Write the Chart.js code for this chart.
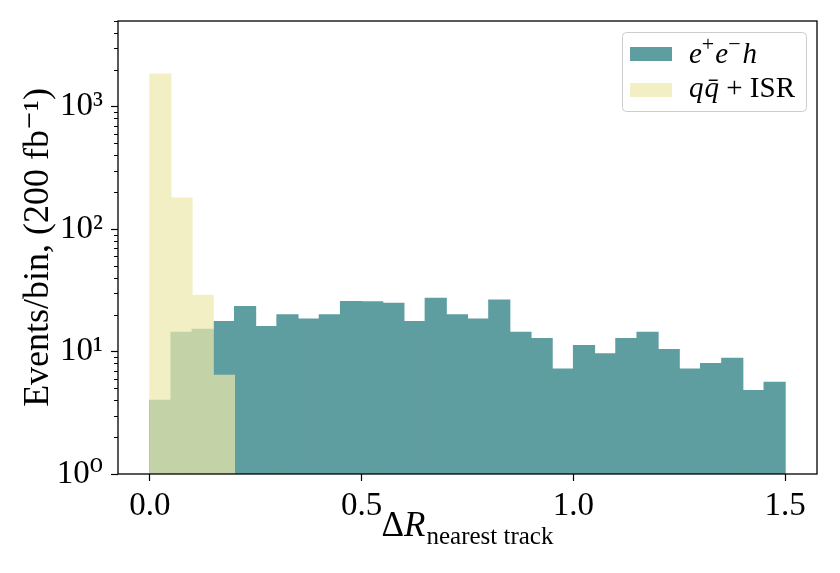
<!DOCTYPE html>
<html>
<head>
<meta charset="utf-8">
<script src="https://cdn.jsdelivr.net/npm/chart.js@4.4.1/dist/chart.umd.min.js"></script>
<style>
  html, body { margin: 0; padding: 0; background: #fff; }
</style>
</head>
<body>
<canvas id="chart1" width="840" height="573"></canvas>
<script>
// histogram bins (width 0.05) and counts
const binCenters = [0.025, 0.075, 0.125, 0.175, 0.225, 0.275, 0.325, 0.375, 0.425, 0.475,
  0.525, 0.575, 0.625, 0.675, 0.725, 0.775, 0.825, 0.875, 0.925, 0.975,
  1.025, 1.075, 1.125, 1.175, 1.225, 1.275, 1.325, 1.375, 1.425, 1.475];
const signalCounts = [4.0, 14.4, 15.2, 17.6, 23.3, 16.0, 20.0, 18.4, 20.0, 25.6,
  25.5, 24.8, 17.6, 27.2, 20.0, 18.4, 26.3, 14.4, 12.8, 7.2,
  11.2, 9.6, 12.8, 14.4, 10.4, 7.2, 8.0, 8.8, 4.8, 5.6];
const bkgCounts = [1850, 179, 28.8, 6.4, null, null, null, null, null, null,
  null, null, null, null, null, null, null, null, null, null,
  null, null, null, null, null, null, null, null, null, null];
const xTicks = [0, 0.5, 1.0, 1.5];
const yMajorTicks = [1, 10, 100, 1000];
const yMajorLabels = ["10\u2070", "10\u00b9", "10\u00b2", "10\u00b3"];
const yMinorTicks = [2, 3, 4, 5, 6, 7, 8, 9, 20, 30, 40, 50, 60, 70, 80, 90,
  200, 300, 400, 500, 600, 700, 800, 900, 2000, 3000, 4000, 5000];

const SERIF = '"Liberation Serif", "DejaVu Serif", serif';
const TEAL = "rgb(95,158,160)";
// palegoldenrod at alpha 0.7, pre-blended over white and over teal
const PALE = "rgb(243,239,196)";
const OVERLAP = "rgb(195,210,167)";

// draw text made of runs (italic / super / subscript pieces), returns width
function textRuns(ctx, runs, x, y, draw) {
  let cx = x;
  runs.forEach(r => {
    ctx.font = (r.italic ? "italic " : "") + r.size + "px " + SERIF;
    if (draw) ctx.fillText(r.text, cx, y + (r.dy || 0));
    cx += ctx.measureText(r.text).width + (r.gap || 0);
  });
  return cx - x;
}

const decorations = {
  id: "decorations",
  afterDraw(chart) {
    const { ctx, chartArea: a, scales } = chart;
    const y = scales.y;
    ctx.save();
    ctx.strokeStyle = "#000";
    ctx.fillStyle = "#000";

    // minor log ticks
    ctx.lineWidth = 1;
    yMinorTicks.forEach(v => {
      const py = Math.round(y.getPixelForValue(v)) + 0.5;
      ctx.beginPath();
      ctx.moveTo(a.left - 4, py);
      ctx.lineTo(a.left, py);
      ctx.stroke();
    });

    // axes frame
    ctx.lineWidth = 1.3;
    ctx.strokeRect(a.left, a.top, a.right - a.left, a.bottom - a.top);

    // x axis title: ΔR_nearest track
    ctx.textBaseline = "alphabetic";
    ctx.textAlign = "left";
    const xTitle = [
      { text: "\u0394", size: 35 },
      { text: "R", size: 35, italic: true, gap: 1 },
      { text: "nearest track", size: 25, dy: 8 }
    ];
    const w = textRuns(ctx, xTitle, 0, 0, false);
    textRuns(ctx, xTitle, (a.left + a.right) / 2 - w / 2, 536, true);

    // legend box
    const bx = a.right - 195, by = a.top + 11, bw = 184, bh = 79;
    ctx.beginPath();
    ctx.roundRect(bx + 0.5, by + 0.5, bw, bh, 4);
    ctx.fillStyle = "rgba(255,255,255,0.8)";
    ctx.fill();
    ctx.strokeStyle = "#cccccc";
    ctx.lineWidth = 1;
    ctx.stroke();

    ctx.fillStyle = TEAL;
    ctx.fillRect(bx + 8, by + 15, 42, 14);
    ctx.fillStyle = PALE;
    ctx.fillRect(bx + 8, by + 51, 42, 14);

    ctx.fillStyle = "#000";
    const fs = 29, ss = 22;
    textRuns(ctx, [
      { text: "e", size: fs, italic: true },
      { text: "+", size: ss, dy: -12, gap: 1 },
      { text: "e", size: fs, italic: true },
      { text: "\u2212", size: ss, dy: -12, gap: 2 },
      { text: "h", size: fs, italic: true }
    ], bx + 67, by + 31, true);
    textRuns(ctx, [
      { text: "q", size: fs, italic: true, gap: 1 },
      { text: "q\u0304", size: fs, italic: true },
      { text: " + ", size: fs },
      { text: "ISR", size: fs }
    ], bx + 67, by + 65, true);

    ctx.restore();
  }
};

// the qq+ISR histogram is split into the part over white and the part over the teal bars
const bkgAbove = bkgCounts.map((v, i) =>
  v !== null && v > signalCounts[i] ? { x: binCenters[i], y: [signalCounts[i], v] } : { x: binCenters[i], y: null });
const bkgOverlap = bkgCounts.map((v, i) =>
  ({ x: binCenters[i], y: v === null ? null : Math.min(v, signalCounts[i]) }));

document.addEventListener("DOMContentLoaded", () => {
  const ctx1 = document.getElementById("chart1").getContext("2d");
  const chart1 = new Chart(ctx1, {
    type: "bar",
    data: {
      datasets: [
        {
          label: "e+e\u2212h",
          data: signalCounts.map((v, i) => ({ x: binCenters[i], y: v })),
          backgroundColor: TEAL,
          order: 2
        },
        {
          label: "q\u0071\u0304 + ISR",
          data: bkgAbove,
          backgroundColor: PALE,
          order: 1
        },
        {
          label: "overlap",
          data: bkgOverlap,
          backgroundColor: OVERLAP,
          order: 0
        }
      ]
    },
    options: {
      responsive: false,
      animation: false,
      devicePixelRatio: 1,
      datasets: {
        bar: {
          grouped: false,
          barPercentage: 1,
          categoryPercentage: 1,
          borderWidth: 0,
          inflateAmount: 0.5
        }
      },
      layout: { padding: { top: 21, right: 23, left: 0, bottom: 0 } },
      plugins: {
        legend: { display: false },
        tooltip: { enabled: false }
      },
      scales: {
        x: {
          type: "linear",
          min: -0.075,
          max: 1.575,
          offset: false,
          afterBuildTicks: s => { s.ticks = xTicks.map(v => ({ value: v })); },
          afterFit: s => { s.height = 99; s.paddingLeft = 0; s.paddingRight = 0; },
          ticks: {
            callback: v => v.toFixed(1),
            font: { family: SERIF, size: 33 },
            color: "#000",
            padding: 6,
            maxRotation: 0,
            autoSkip: false
          },
          grid: { drawOnChartArea: false, offset: false, tickLength: 7, tickColor: "#000", tickWidth: 1.2 },
          border: { display: false }
        },
        y: {
          type: "logarithmic",
          min: 1,
          max: 5000,
          afterBuildTicks: s => { s.ticks = yMajorTicks.map(v => ({ value: v })); },
          afterFit: s => { s.width = 118; s.paddingTop = 0; s.paddingBottom = 0; },
          ticks: {
            callback: v => yMajorLabels[yMajorTicks.indexOf(v)],
            font: { family: SERIF, size: 33 },
            color: "#000",
            padding: 8,
            autoSkip: false
          },
          grid: { drawOnChartArea: false, tickLength: 7, tickColor: "#000", tickWidth: 1.2 },
          border: { display: false },
          title: {
            display: true,
            text: "Events/bin, (200 fb\u207b\u00b9)",
            font: { family: SERIF, size: 36 },
            color: "#000",
            padding: { top: 17, bottom: 0 }
          }
        }
      }
    },
    plugins: [decorations]
  });
});
</script>
</body>
</html>
